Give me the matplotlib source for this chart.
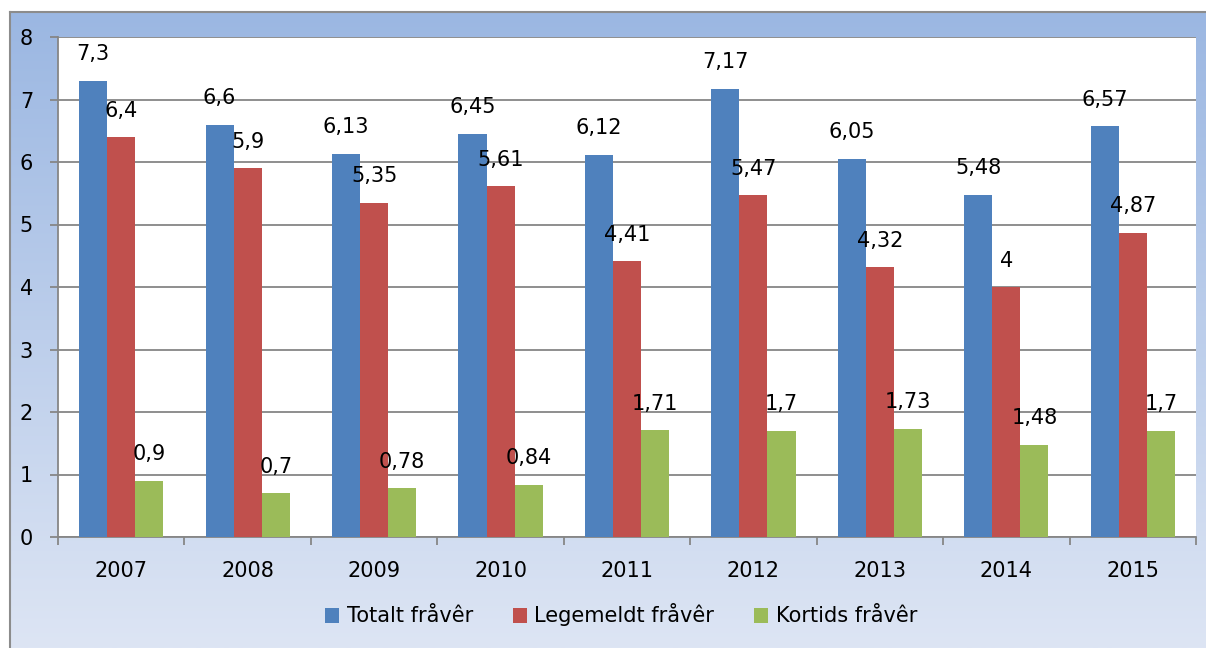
import numpy as np
import matplotlib
matplotlib.use("Agg")
import matplotlib.pyplot as plt
from matplotlib.patches import Patch

years = ["2007", "2008", "2009", "2010", "2011", "2012", "2013", "2014", "2015"]
totalt = [7.3, 6.6, 6.13, 6.45, 6.12, 7.17, 6.05, 5.48, 6.57]
legemeldt = [6.4, 5.9, 5.35, 5.61, 4.41, 5.47, 4.32, 4.0, 4.87]
kortids = [0.9, 0.7, 0.78, 0.84, 1.71, 1.7, 1.73, 1.48, 1.7]
series_names = ["Totalt fråvêr", "Legemeldt fråvêr", "Kortids fråvêr"]
colors = ["#4F81BD", "#C0504D", "#9BBB59"]

plt.rcParams['font.family'] = ['DejaVu Sans']
W, H = 1206, 648
fig = plt.figure(figsize=(W / 100, H / 100), dpi=100)

# background frame with gradient
bg = fig.add_axes([10 / W, 0, 1 - 10 / W, 1 - 12 / H], zorder=-1)
top_c = np.array([155, 183, 226]) / 255
bot_c = np.array([221, 229, 244]) / 255
t = np.linspace(0, 1, 256)[:, None]
grad = (top_c[None, :] * (1 - t) + bot_c[None, :] * t)[:, None, :]
bg.imshow(grad, aspect='auto', extent=[0, 1, 0, 1], origin='upper')
bg.set_xlim(0, 1)
bg.set_ylim(0, 1)
bg.set_xticks([])
bg.set_yticks([])
for s in ['right', 'bottom']:
    bg.spines[s].set_visible(False)
for s in ['left', 'top']:
    bg.spines[s].set_color('#8C8C8C')
    bg.spines[s].set_linewidth(1.5)

ax = fig.add_axes([58 / W, 1 - 537 / H, (1196 - 58) / W, (537 - 37) / H])
ax.set_facecolor('white')

x = np.arange(len(years))
w = 0.222
all_series = [totalt, legemeldt, kortids]
for i, (vals, c, name) in enumerate(zip(all_series, colors, series_names)):
    xs = x + (i - 1) * w
    ax.bar(xs, vals, width=w, color=c, label=name, zorder=3, edgecolor='none')
    for xi, v in zip(xs, vals):
        ax.annotate(('%g' % v).replace('.', ','), (xi, v), xytext=(0, 19),
                    textcoords='offset points', ha='center', va='center',
                    fontsize=15, color='black', zorder=5)

ax.set_xlim(-0.5, len(years) - 0.5)
ax.set_ylim(0, 8)
ax.set_yticks(range(0, 9))
ax.yaxis.grid(True, color='#868686', linewidth=1.3, zorder=0)
ax.set_axisbelow(True)
ax.tick_params(axis='y', length=6, width=1.3, color='#868686', labelsize=15, pad=12)

ax.set_xticks(np.arange(-0.5, len(years), 1.0))
ax.set_xticklabels([])
ax.set_xticks(x, minor=True)
ax.set_xticklabels(years, minor=True)
ax.tick_params(axis='x', which='major', length=6, width=1.3, color='#868686', direction='out')
ax.tick_params(axis='x', which='minor', length=0, labelsize=15, pad=17)

for s in ['top', 'right']:
    ax.spines[s].set_visible(False)
for s in ['left', 'bottom']:
    ax.spines[s].set_color('#868686')
    ax.spines[s].set_linewidth(1.3)

handles = [Patch(facecolor=c, edgecolor='none', label=n) for c, n in zip(colors, series_names)]
fig.legend(handles=handles, loc='center', bbox_to_anchor=(621 / W, 1 - 615 / H), ncol=3,
           frameon=False, fontsize=15, handlelength=0.7, handleheight=0.7,
           handletextpad=0.35, columnspacing=1.9)

fig.savefig('out.png', dpi=100)
